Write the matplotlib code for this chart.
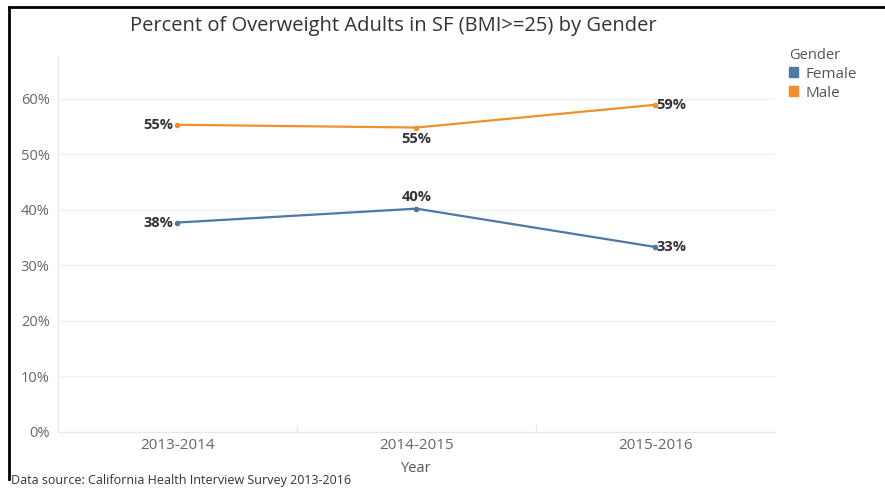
import matplotlib.pyplot as plt
from matplotlib.lines import Line2D
from matplotlib.patches import Patch

plt.rcParams['font.family'] = ['Open Sans', 'DejaVu Sans']

years = ['2013-2014', '2014-2015', '2015-2016']
female = [0.377, 0.402, 0.333]
male = [0.553, 0.548, 0.589]
yticks = [0, 0.1, 0.2, 0.3, 0.4, 0.5, 0.6]

c_female = '#4e79a7'
c_male = '#f28e2b'
txt = '#333333'

fig = plt.figure(figsize=(8.85, 4.91), dpi=100)
ax = fig.add_axes([0.0655, 0.1202, 0.810, 0.766])

x = range(len(years))
ax.plot(x, female, color=c_female, lw=1.6, marker='o', ms=3)
ax.plot(x, male, color=c_male, lw=1.6, marker='o', ms=3)

# data labels
lab_style = dict(fontsize=10.5, fontweight='bold', color=txt)
ax.annotate('%d%%' % round(male[0] * 100), (0, male[0]), xytext=(-3, 0),
            textcoords='offset points', ha='right', va='center', **lab_style)
ax.annotate('%d%%' % round(female[0] * 100), (0, female[0]), xytext=(-3, 0),
            textcoords='offset points', ha='right', va='center', **lab_style)
ax.annotate('%d%%' % round(female[1] * 100), (1, female[1]), xytext=(0, 3),
            textcoords='offset points', ha='center', va='bottom', **lab_style)
ax.annotate('%d%%' % round(male[1] * 100), (1, male[1]), xytext=(0, -3),
            textcoords='offset points', ha='center', va='top', **lab_style)
ax.annotate('%d%%' % round(male[2] * 100), (2, male[2]), xytext=(1, 0),
            textcoords='offset points', ha='left', va='center', **lab_style)
ax.annotate('%d%%' % round(female[2] * 100), (2, female[2]), xytext=(1, 0),
            textcoords='offset points', ha='left', va='center', **lab_style)

ax.set_xlim(-0.5, 2.5)
ax.set_ylim(0, 0.677)
ax.set_xticks(list(x))
ax.set_xticklabels(years)
ax.set_yticks(yticks)
ax.set_yticklabels(['%d%%' % round(v * 100) for v in yticks])
ax.tick_params(length=0, labelsize=10.5, colors='#666666', pad=6)
ax.tick_params(axis='x', labelsize=11, pad=4)
ax.grid(axis='y', color='#f0f0f0', lw=1)
ax.set_axisbelow(True)
for s in ['top', 'right']:
    ax.spines[s].set_visible(False)
for s in ['left', 'bottom']:
    ax.spines[s].set_color('#e8e8e8')
# faint band dividers
for b in [0.5, 1.5]:
    ax.plot([b, b], [0, 0.012], color='#e8e8e8', lw=1, clip_on=False)
ax.set_xlabel('Year', fontsize=10.5, color='#555555', labelpad=6)

fig.text(0.444, 0.948, 'Percent of Overweight Adults in SF (BMI>=25) by Gender',
         ha='center', va='center', fontsize=14.5, color=txt)
fig.text(0.012, 0.008, 'Data source: California Health Interview Survey 2013-2016',
         ha='left', va='bottom', fontsize=9, color=txt)

handles = [Patch(color=c_female, label='Female'), Patch(color=c_male, label='Male')]
leg = fig.legend(handles=handles, title='Gender', loc='upper left',
                 bbox_to_anchor=(0.883, 0.918), frameon=False, fontsize=11,
                 title_fontsize=10.5, handlelength=0.6, handleheight=0.6,
                 handletextpad=0.5, labelspacing=0.25, borderpad=0)
leg._legend_box.align = 'left'
for t in leg.get_texts():
    t.set_color('#555555')
leg.get_title().set_color('#555555')

# frame lines (top and left)
fig.add_artist(Line2D([0.0102, 1.0], [0.986, 0.986], color='black', lw=2))
fig.add_artist(Line2D([0.0102, 0.0102], [0.986, 0.025], color='black', lw=2))

fig.savefig('out.png', dpi=100)
